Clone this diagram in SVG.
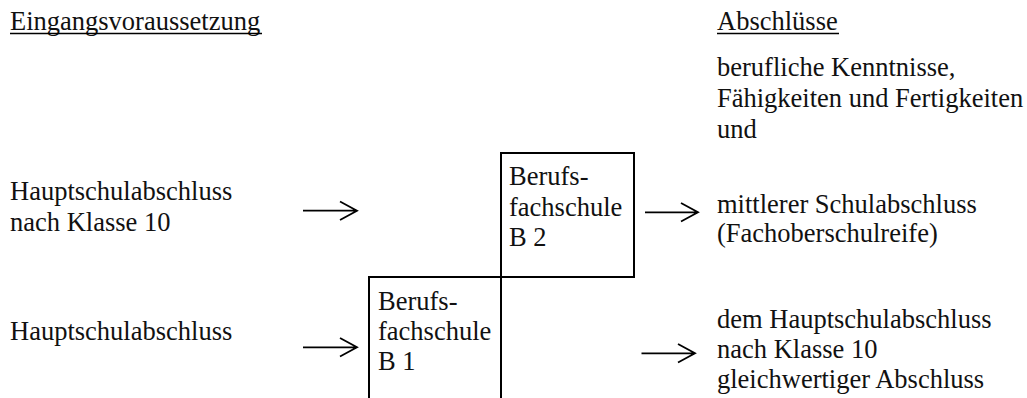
<svg xmlns="http://www.w3.org/2000/svg" width="1027" height="398" viewBox="0 0 1027 398">
<style>
text{font-family:"Liberation Serif","Times New Roman",serif;font-size:26.5px;fill:#111}
.box{fill:none;stroke:#000;stroke-width:2}
.ul{stroke:#000;stroke-width:1.6}
.ar{fill:none;stroke:#000;stroke-width:1.8}
</style>
<rect width="1027" height="398" fill="#fff"/>
<g id="header-left">
<text x="10" y="30">Eingangsvoraussetzung</text>
<line class="ul" x1="10" y1="33.5" x2="262" y2="33.5"/>
</g>
<g id="header-right">
<text x="717" y="30">Abschlüsse</text>
<line class="ul" x1="717" y1="33.5" x2="839" y2="33.5"/>
</g>
<g id="abschluss-top">
<text x="717" y="76">berufliche Kenntnisse,</text>
<text x="717" y="107">Fähigkeiten und Fertigkeiten</text>
<text x="717" y="138">und</text>
</g>
<g id="input-1">
<text x="10" y="200">Hauptschulabschluss</text>
<text x="10" y="231">nach Klasse 10</text>
</g>
<g id="input-2">
<text x="10" y="340">Hauptschulabschluss</text>
</g>
<g id="b2">
<rect class="box" x="501" y="153" width="133" height="124"/>
<text x="509" y="185">Berufs-</text>
<text x="509" y="216">fachschule</text>
<text x="509" y="246">B 2</text>
</g>
<g id="b1">
<rect class="box" x="369" y="277" width="132" height="130"/>
<text x="378" y="310">Berufs-</text>
<text x="378" y="340">fachschule</text>
<text x="378" y="370">B 1</text>
</g>
<g id="output-1">
<text x="717" y="213">mittlerer Schulabschluss</text>
<text x="717" y="242">(Fachoberschulreife)</text>
</g>
<g id="output-2">
<text x="717" y="328">dem Hauptschulabschluss</text>
<text x="717" y="358">nach Klasse 10</text>
<text x="717" y="388">gleichwertiger Abschluss</text>
</g>
<g id="connectors">
<path class="ar" d="M303 210.7H357M340 201.5L357 210.7L340 220"/>
<path class="ar" d="M303 347.3H357M340 338L357 347.3L340 356.5"/>
<path class="ar" d="M645 212.3H698M681 203L698 212.3L681 221.5"/>
<path class="ar" d="M641.5 353.3H695M678 344L695 353.3L678 362.5"/>
</g>
</svg>
